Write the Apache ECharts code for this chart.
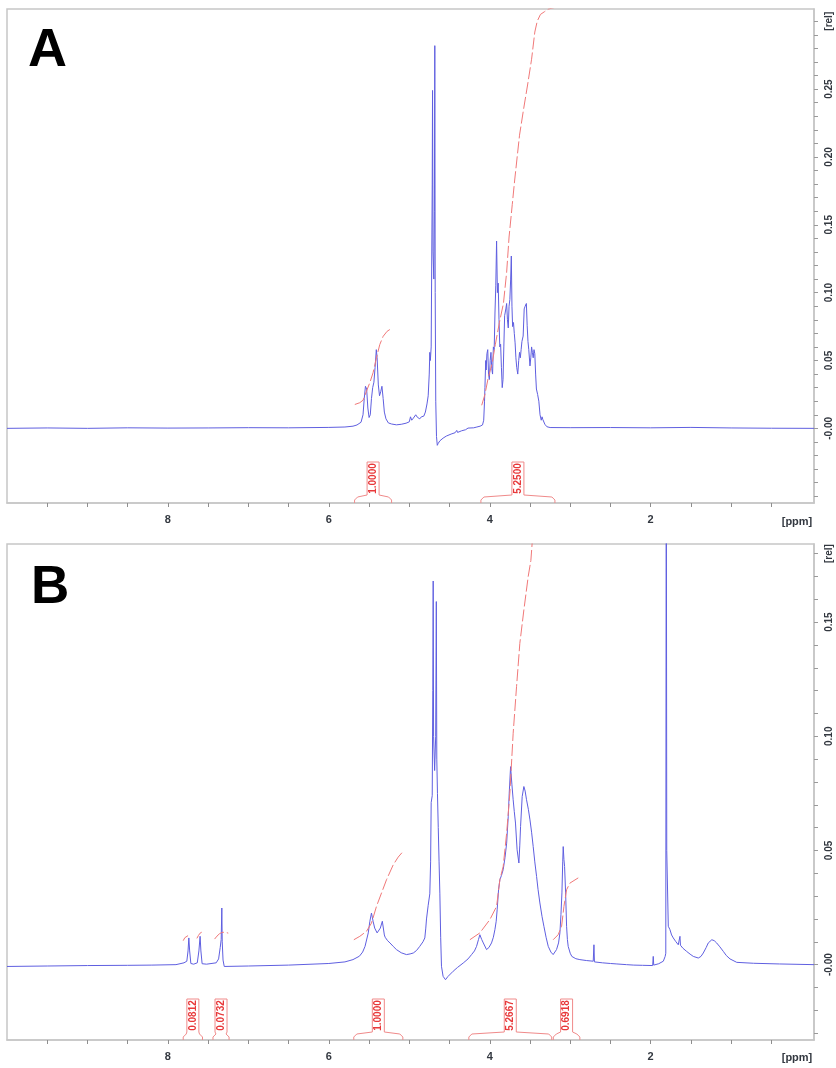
<!DOCTYPE html>
<html>
<head>
<meta charset="utf-8">
<title>1H NMR spectra A / B</title>
<script src="https://cdn.jsdelivr.net/npm/echarts@6/dist/echarts.min.js"></script>
<style>
html, body { margin: 0; padding: 0; background: #fff; }
#nmr-chart { width: 836px; height: 1068px; }
</style>
</head>
<body>
<div id="nmr-chart"></div>
<script>
// ---- shared ppm axis ----
var ppmMin = -0.03, ppmMax = 10;
var ppmTicks = [9.5, 9, 8.5, 8, 7.5, 7, 6.5, 6, 5.5, 5, 4.5, 4, 3.5, 3, 2.5, 2, 1.5, 1, 0.5];
var ppmLabels = [8, 6, 4, 2];

// ---- panel A ----
var relMinA = -0.055, relMaxA = 0.309;
var relTicksA = [-0.05, -0.04, -0.03, -0.02, -0.01, 0, 0.01, 0.02, 0.03, 0.04, 0.05, 0.06, 0.07, 0.08, 0.09, 0.1,
  0.11, 0.12, 0.13, 0.14, 0.15, 0.16, 0.17, 0.18, 0.19, 0.2, 0.21, 0.22, 0.23, 0.24, 0.25, 0.26, 0.27, 0.28, 0.29, 0.3];
var relLabelsA = [0, 0.05, 0.1, 0.15, 0.2, 0.25, 0.3];
var unitAtA = 0.3;

var spectrumA = [
  [10.0, 0.0], [9.5, 0.0003], [9.0, 0.0], [8.5, 0.0004], [8.0, 0.0002], [7.5, 0.0003], [7.0, 0.0005],
  [6.5, 0.0004], [6.0, 0.0007], [5.8, 0.0010], [5.7, 0.0016], [5.65, 0.0025], [5.6, 0.0045],
  [5.575, 0.010], [5.56, 0.022], [5.545, 0.031], [5.53, 0.029], [5.515, 0.015], [5.5, 0.008],
  [5.485, 0.010], [5.47, 0.022], [5.455, 0.030], [5.44, 0.034], [5.425, 0.045], [5.41, 0.058],
  [5.40, 0.052], [5.385, 0.032], [5.37, 0.024], [5.355, 0.027], [5.34, 0.031], [5.325, 0.022],
  [5.31, 0.012], [5.29, 0.007], [5.26, 0.004], [5.22, 0.0032], [5.16, 0.0026], [5.10, 0.0030],
  [5.04, 0.0038], [5.00, 0.0048], [4.985, 0.0085], [4.97, 0.0060], [4.95, 0.0075], [4.92, 0.0100],
  [4.90, 0.0082], [4.87, 0.0070], [4.85, 0.0085], [4.82, 0.0090], [4.80, 0.012], [4.78, 0.018],
  [4.765, 0.024], [4.752, 0.040], [4.745, 0.056], [4.738, 0.050], [4.728, 0.060], [4.715, 0.18],
  [4.711, 0.249], [4.705, 0.13], [4.695, 0.11], [4.688, 0.16], [4.683, 0.282], [4.678, 0.10],
  [4.671, 0.02], [4.662, -0.006], [4.652, -0.0125], [4.64, -0.011], [4.62, -0.0092], [4.58, -0.0072],
  [4.54, -0.0057], [4.48, -0.0042], [4.43, -0.0032], [4.41, -0.0015], [4.40, -0.003], [4.35, -0.0018],
  [4.30, -0.001], [4.27, 0.0002], [4.25, -0.0006], [4.20, 0.0004], [4.16, 0.0010], [4.12, 0.0016],
  [4.09, 0.0025], [4.075, 0.006], [4.065, 0.020], [4.06, 0.030], [4.05, 0.050], [4.045, 0.043],
  [4.035, 0.055], [4.025, 0.058], [4.015, 0.040], [4.005, 0.036], [3.995, 0.050], [3.985, 0.056],
  [3.975, 0.044], [3.965, 0.040], [3.955, 0.060], [3.945, 0.058], [3.935, 0.085], [3.925, 0.105],
  [3.915, 0.138], [3.905, 0.100], [3.895, 0.107], [3.885, 0.080], [3.875, 0.060], [3.865, 0.062],
  [3.855, 0.045], [3.845, 0.030], [3.835, 0.036], [3.825, 0.060], [3.815, 0.083], [3.80, 0.088],
  [3.79, 0.092], [3.78, 0.080], [3.77, 0.074], [3.76, 0.090], [3.75, 0.095], [3.74, 0.110],
  [3.732, 0.127], [3.724, 0.090], [3.716, 0.075], [3.705, 0.078], [3.695, 0.070], [3.685, 0.063],
  [3.675, 0.052], [3.665, 0.045], [3.652, 0.040], [3.64, 0.050], [3.63, 0.056], [3.62, 0.052],
  [3.61, 0.058], [3.60, 0.064], [3.585, 0.068], [3.572, 0.088], [3.56, 0.090], [3.545, 0.092],
  [3.535, 0.076], [3.525, 0.064], [3.515, 0.058], [3.50, 0.046], [3.49, 0.052], [3.48, 0.060],
  [3.47, 0.056], [3.46, 0.052], [3.45, 0.058], [3.44, 0.055], [3.43, 0.040], [3.42, 0.029],
  [3.405, 0.025], [3.39, 0.020], [3.375, 0.010], [3.36, 0.006], [3.35, 0.0085], [3.34, 0.0065],
  [3.33, 0.0075], [3.315, 0.003], [3.29, 0.0012], [3.25, 0.0006], [3.0, 0.0005], [2.5, 0.0006],
  [2.0, 0.0004], [1.5, 0.0007], [1.0, 0.0003], [0.5, 0.0001], [-0.03, 0.0]
];

var integralA1 = [
  [5.677, 0.0176], [5.615, 0.0189], [5.574, 0.0208], [5.532, 0.0274], [5.491, 0.0336], [5.45, 0.041],
  [5.408, 0.052], [5.367, 0.0617], [5.325, 0.0678], [5.276, 0.0715], [5.242, 0.0728]
];
var integralA2 = [
  [4.10, 0.017], [4.06, 0.025], [4.02, 0.037], [3.97, 0.048], [3.93, 0.062], [3.88, 0.078],
  [3.83, 0.092], [3.79, 0.115], [3.76, 0.141], [3.72, 0.165], [3.69, 0.183], [3.63, 0.216],
  [3.58, 0.235], [3.53, 0.253], [3.48, 0.272], [3.44, 0.292], [3.41, 0.300], [3.37, 0.305],
  [3.32, 0.307], [3.27, 0.309], [3.20, 0.310]
];
var rangesA = [[5.68, 5.22], [4.11, 3.19]];
var integralTextA = ['1.0000', '5.2500'];

// ---- panel B ----
var relMinB = -0.033, relMaxB = 0.1842;
var relTicksB = [-0.03, -0.02, -0.01, 0, 0.01, 0.02, 0.03, 0.04, 0.05, 0.06, 0.07, 0.08, 0.09, 0.1,
  0.11, 0.12, 0.13, 0.14, 0.15, 0.16, 0.17, 0.18];
var relLabelsB = [0, 0.05, 0.1, 0.15, 0.18];
var unitAtB = 0.18;

var spectrumB = [
  [10.0, -0.0008], [9.5, -0.0006], [9.0, -0.0004], [8.5, -0.0003], [8.2, -0.0002], [7.9, 0.0],
  [7.80, 0.0008], [7.765, 0.0015], [7.75, 0.006], [7.74, 0.0117], [7.73, 0.006], [7.715, 0.0005],
  [7.68, 0.0002], [7.635, 0.0008], [7.615, 0.006], [7.60, 0.0124], [7.59, 0.006], [7.575, 0.0004],
  [7.52, 0.0002], [7.40, 0.0008], [7.37, 0.0025], [7.35, 0.0075], [7.338, 0.011], [7.33, 0.0248],
  [7.325, 0.010], [7.315, 0.002], [7.30, -0.0008], [7.0, -0.0006], [6.5, -0.0002], [6.0, 0.0005],
  [5.8, 0.0012], [5.70, 0.0022], [5.62, 0.0037], [5.58, 0.0055], [5.55, 0.008], [5.51, 0.0139],
  [5.49, 0.019], [5.47, 0.0226], [5.45, 0.019], [5.43, 0.016], [5.40, 0.0139], [5.385, 0.0135],
  [5.36, 0.016], [5.335, 0.019], [5.325, 0.019], [5.31, 0.013], [5.30, 0.012], [5.27, 0.0105],
  [5.24, 0.0095], [5.20, 0.0080], [5.16, 0.0066], [5.10, 0.0052], [5.035, 0.0044], [4.99, 0.0047],
  [4.95, 0.0051], [4.91, 0.0062], [4.87, 0.008], [4.83, 0.0100], [4.807, 0.0117], [4.795, 0.016],
  [4.786, 0.020], [4.765, 0.026], [4.745, 0.031], [4.735, 0.045], [4.728, 0.071], [4.715, 0.074],
  [4.708, 0.12], [4.703, 0.168], [4.698, 0.10], [4.685, 0.085], [4.672, 0.10], [4.664, 0.159],
  [4.658, 0.09], [4.65, 0.075], [4.64, 0.06], [4.63, 0.045], [4.62, 0.031], [4.61, 0.012],
  [4.60, -0.0007], [4.58, -0.0051], [4.55, -0.0066], [4.52, -0.0052], [4.455, -0.0029], [4.40, -0.0012],
  [4.33, 0.0007], [4.27, 0.0025], [4.226, 0.0044], [4.19, 0.006], [4.164, 0.008], [4.14, 0.011],
  [4.123, 0.0131], [4.10, 0.011], [4.08, 0.0095], [4.04, 0.0066], [4.01, 0.0075], [3.978, 0.0095],
  [3.955, 0.012], [3.936, 0.0153], [3.92, 0.019], [3.908, 0.024], [3.89, 0.033], [3.874, 0.0372],
  [3.855, 0.039], [3.833, 0.0416], [3.81, 0.047], [3.79, 0.0532], [3.77, 0.065], [3.758, 0.0751],
  [3.741, 0.0867], [3.725, 0.079], [3.709, 0.0722], [3.695, 0.067], [3.68, 0.062], [3.66, 0.0503],
  [3.638, 0.0445], [3.627, 0.052], [3.617, 0.0605], [3.597, 0.0736], [3.576, 0.078], [3.56, 0.076],
  [3.543, 0.0722], [3.52, 0.068], [3.50, 0.0634], [3.48, 0.058], [3.46, 0.0517], [3.44, 0.045],
  [3.418, 0.0386], [3.40, 0.033], [3.377, 0.027], [3.35, 0.021], [3.327, 0.0168], [3.30, 0.012],
  [3.273, 0.008], [3.24, 0.0055], [3.212, 0.0044], [3.19, 0.005], [3.17, 0.0066], [3.145, 0.0095],
  [3.128, 0.0139], [3.115, 0.022], [3.103, 0.0314], [3.093, 0.045], [3.087, 0.0517], [3.078, 0.046],
  [3.07, 0.043], [3.057, 0.0314], [3.045, 0.0168], [3.035, 0.011], [3.025, 0.008], [3.00, 0.005],
  [2.98, 0.0036], [2.93, 0.0026], [2.88, 0.0022], [2.80, 0.0018], [2.714, 0.0015], [2.705, 0.0087],
  [2.699, 0.0012], [2.60, 0.0008], [2.50, 0.0005], [2.42, 0.0003], [2.30, 0.0], [2.21, -0.0002],
  [2.10, -0.0003], [1.975, -0.0004], [1.968, 0.0036], [1.962, -0.0002], [1.90, 0.0004], [1.843, 0.0015],
  [1.82, 0.0036], [1.812, 0.005], [1.806, 0.25], [1.800, 0.05], [1.788, 0.0503], [1.781, 0.0168],
  [1.76, 0.0153], [1.74, 0.013], [1.719, 0.0117], [1.69, 0.0102], [1.657, 0.0087], [1.645, 0.0092],
  [1.636, 0.0124], [1.630, 0.0085], [1.60, 0.0072], [1.553, 0.0058], [1.51, 0.0046], [1.47, 0.0036],
  [1.408, 0.0029], [1.375, 0.0036], [1.346, 0.0051], [1.31, 0.0075], [1.284, 0.0095], [1.24, 0.0109],
  [1.21, 0.0105], [1.18, 0.0095], [1.14, 0.0078], [1.097, 0.0058], [1.06, 0.0040], [1.014, 0.0025],
  [0.93, 0.001], [0.72, 0.0006], [0.4, 0.0003], [-0.03, 0.0]
];

var integralB1 = [[7.81, 0.0105], [7.79, 0.0118], [7.77, 0.0125], [7.75, 0.0127]];
var integralB2 = [[7.64, 0.0115], [7.62, 0.0128], [7.60, 0.0138], [7.58, 0.0142]];
var integralB3 = [[7.42, 0.0112], [7.39, 0.0125], [7.36, 0.0135], [7.33, 0.0141], [7.29, 0.0142], [7.25, 0.0138]];
var integralB4 = [
  [5.689, 0.0109], [5.615, 0.0124], [5.532, 0.0146], [5.47, 0.0182], [5.408, 0.0255], [5.345, 0.0314],
  [5.283, 0.0372], [5.2, 0.0437], [5.138, 0.0471], [5.077, 0.0496]
];
var integralB5 = [
  [4.247, 0.0109], [4.123, 0.0139], [3.999, 0.0197], [3.915, 0.0255], [3.874, 0.0372], [3.833, 0.043],
  [3.79, 0.0576], [3.75, 0.0751], [3.709, 0.1013], [3.667, 0.1217], [3.626, 0.1407], [3.576, 0.1553],
  [3.522, 0.170], [3.489, 0.177], [3.47, 0.186]
];
var integralB6 = [
  [3.212, 0.0109], [3.15, 0.0131], [3.107, 0.0168], [3.078, 0.0255], [3.045, 0.0328], [3.004, 0.0357],
  [2.9, 0.038]
];
var rangesB = [[7.81, 7.57], [7.44, 7.24], [5.69, 5.08], [4.26, 3.23], [3.21, 2.88]];
var integralTextB = ['0.0812', '0.0732', '1.0000', '5.2667', '0.6918'];

// ---- styling ----
var fontName = '"Liberation Sans", Arial, sans-serif';
var frameColor = '#c6c6c6';
var labelColor = '#333840';
var specColor = '#5f5fe0';
var integralColor = '#f07878';

function ppmAxis(gridIndex) {
  return {
    type: 'value', gridIndex: gridIndex, inverse: true, min: ppmMin, max: ppmMax,
    splitLine: { show: false },
    axisLine: { show: true, onZero: false, lineStyle: { color: frameColor, width: 1.5 } },
    axisTick: { show: true, inside: false, length: 4, customValues: ppmTicks, lineStyle: { color: '#8e8e8e' } },
    axisLabel: {
      customValues: ppmLabels, margin: 11, color: labelColor,
      fontSize: 11, fontWeight: 'bold', fontFamily: fontName
    }
  };
}

function relAxis(gridIndex, min, max, ticks, labels, unitAt) {
  return {
    type: 'value', gridIndex: gridIndex, position: 'right', min: min, max: max,
    splitLine: { show: false },
    axisLine: { show: true, onZero: false, lineStyle: { color: frameColor, width: 1.5 } },
    axisTick: { show: true, inside: false, length: 4, customValues: ticks, lineStyle: { color: '#9a9a9a' } },
    axisLabel: {
      customValues: labels, rotate: 90, margin: 10, color: labelColor,
      fontSize: 10, fontWeight: 'bold', fontFamily: fontName,
      formatter: function (v) {
        if (v === unitAt) return '[rel]';
        if (v === 0) return '-0.00';
        return v.toFixed(2);
      }
    }
  };
}

function lineSeries(idx, data, color, dashed) {
  return {
    type: 'line', xAxisIndex: idx, yAxisIndex: idx, data: data,
    showSymbol: false, clip: true, silent: true,
    lineStyle: { color: color, width: 1, type: dashed ? [12, 3] : 'solid' }
  };
}

// bracket + boxed value under each integral region
function integralMarks(texts) {
  return function (params, api) {
    var xa = api.coord([api.value(0), 0])[0];
    var xb = api.coord([api.value(1), 0])[0];
    var xm = (xa + xb) / 2;
    var bottom = params.coordSys.y + params.coordSys.height;
    var half = 6, boxTop = bottom - 41, boxBottom = bottom - 8;
    var st = { stroke: '#f08a8a', lineWidth: 1, fill: null };
    return {
      type: 'group',
      children: [
        { type: 'polyline', shape: { points: [[xa, bottom], [xa, bottom - 3], [xa + 3, bottom - 6], [xm - half, boxBottom]] }, style: st },
        { type: 'polyline', shape: { points: [[xb, bottom], [xb, bottom - 3], [xb - 3, bottom - 6], [xm + half, boxBottom]] }, style: st },
        { type: 'polyline', shape: { points: [[xm - half, boxBottom], [xm - half, boxTop], [xm + half, boxTop], [xm + half, boxBottom]] }, style: st },
        {
          type: 'text', x: xm, y: (boxTop + boxBottom) / 2, rotation: Math.PI / 2,
          style: {
            text: texts[params.dataIndex], fill: '#e8383a', fontSize: 10, fontWeight: 'bold',
            fontFamily: fontName, align: 'center', verticalAlign: 'middle'
          }
        }
      ]
    };
  };
}

function markSeries(idx, ranges, texts) {
  return {
    type: 'custom', xAxisIndex: idx, yAxisIndex: idx, silent: true,
    encode: { x: [0, 1], y: 2 },
    data: ranges.map(function (r) { return [r[0], r[1], 0]; }),
    renderItem: integralMarks(texts)
  };
}

var chart = echarts.init(document.getElementById('nmr-chart'));
chart.setOption({
  animation: false,
  backgroundColor: '#fff',
  grid: [
    { left: 7, right: 22, top: 9, height: 494, show: true, borderColor: frameColor, borderWidth: 1.5 },
    { left: 7, right: 22, top: 544, height: 496, show: true, borderColor: frameColor, borderWidth: 1.5 }
  ],
  xAxis: [ppmAxis(0), ppmAxis(1)],
  yAxis: [
    relAxis(0, relMinA, relMaxA, relTicksA, relLabelsA, unitAtA),
    relAxis(1, relMinB, relMaxB, relTicksB, relLabelsB, unitAtB)
  ],
  graphic: [
    { type: 'text', x: 28, y: 51, style: { text: 'A', fill: '#000', fontSize: 54, fontWeight: 'bold', fontFamily: fontName, align: 'left', verticalAlign: 'middle' } },
    { type: 'text', x: 31, y: 588, style: { text: 'B', fill: '#000', fontSize: 53, fontWeight: 'bold', fontFamily: fontName, align: 'left', verticalAlign: 'middle' } },
    { type: 'text', x: 797, y: 522, style: { text: '[ppm]', fill: labelColor, fontSize: 11, fontWeight: 'bold', fontFamily: fontName, align: 'center', verticalAlign: 'middle' } },
    { type: 'text', x: 797, y: 1058, style: { text: '[ppm]', fill: labelColor, fontSize: 11, fontWeight: 'bold', fontFamily: fontName, align: 'center', verticalAlign: 'middle' } }
  ],
  series: [
    lineSeries(0, spectrumA, specColor, false),
    lineSeries(0, integralA1, integralColor, true),
    lineSeries(0, integralA2, integralColor, true),
    markSeries(0, rangesA, integralTextA),
    lineSeries(1, spectrumB, specColor, false),
    lineSeries(1, integralB1, integralColor, true),
    lineSeries(1, integralB2, integralColor, true),
    lineSeries(1, integralB3, integralColor, true),
    lineSeries(1, integralB4, integralColor, true),
    lineSeries(1, integralB5, integralColor, true),
    lineSeries(1, integralB6, integralColor, true),
    markSeries(1, rangesB, integralTextB)
  ]
});
</script>
</body>
</html>
